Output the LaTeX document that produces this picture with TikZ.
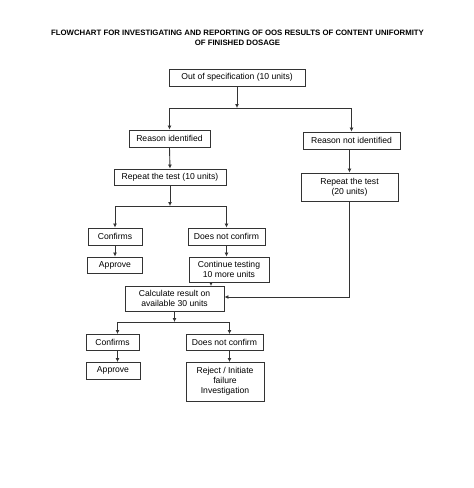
\documentclass[tikz,border=0pt]{standalone}
\usepackage{fontspec}
\setmainfont{Liberation Sans}
\usetikzlibrary{arrows.meta}

\tikzset{
  stepbox/.style={draw=black!80, line width=0.9pt, inner sep=0pt, align=center, font=\fontsize{8.6}{10}\selectfont},
  flow/.style={draw=black!80, line width=0.9pt, -{Latex[length=4pt,width=4pt]}},
  wire/.style={draw=black!80, line width=0.9pt}
}

\begin{document}
\begin{tikzpicture}[x=1pt, y=-1pt]
    \useasboundingbox (0, 0) rectangle (474, 488);

    \node[align=center, font=\bfseries\fontsize{7.8}{10}\selectfont] (title) at (237.5, 37.5)
        {FLOWCHART FOR INVESTIGATING AND REPORTING OF OOS RESULTS OF CONTENT UNIFORMITY\\OF FINISHED DOSAGE};

    % first level
    \node[stepbox, minimum width=136pt, minimum height=17pt] (spec) at (237, 77.5) {Out of specification (10 units)};
    \node[stepbox, minimum width=81pt, minimum height=17pt] (rid) at (169.5, 138.5) {Reason identified};
    \node[stepbox, minimum width=97pt, minimum height=17pt] (rnid) at (351.5, 140.5) {Reason not identified};

    \coordinate (j1) at (237, 108);
    \draw[flow] (spec.south) to (j1);
    \draw[wire] (169.5, 108) to (351.5, 108);
    \draw[flow] (169.5, 108) to (rid.north);
    \draw[flow] (351.5, 108) to (rnid.north);

    % reason identified
    \node[stepbox, minimum width=112pt, minimum height=16pt] (rep10) at (170, 177) {Repeat the test (10 units)};
    \draw[flow] (rid.south) to (rep10.north);

    \node[stepbox, minimum width=54pt, minimum height=17pt] (conf1) at (115, 236.5) {Confirms};
    \node[stepbox, minimum width=77pt, minimum height=17pt] (dnc1) at (226.5, 236.5) {Does not confirm};
    \coordinate (j2) at (170, 206);
    \draw[flow] (rep10.south) to (j2);
    \draw[wire] (115, 206) to (226.5, 206);
    \draw[flow] (115, 206) to (conf1.north);
    \draw[flow] (226.5, 206) to (dnc1.north);

    \node[stepbox, minimum width=55pt, minimum height=16pt] (app1) at (115, 265) {Approve};
    \node[stepbox, minimum width=80pt, minimum height=25pt] (cont) at (229, 269.5) {Continue testing\\10 more units};
    \draw[flow] (conf1.south) to (app1.north);
    \draw[flow] (dnc1.south) to (dnc1.south |- cont.north);

    % reason not identified
    \node[stepbox, minimum width=97pt, minimum height=28pt] (rep20) at (349.5, 187) {Repeat the test\\(20 units)};
    \draw[flow] (rnid.south -| rep20.north) to (rep20.north);

    % combined result
    \node[stepbox, minimum width=99pt, minimum height=25pt] (calc) at (174.5, 298.5) {Calculate result on\\available 30 units};
    \draw[flow] (211, 282) to (211, 286);
    \draw[flow] (rep20.south) to (349.5, 297) to (calc.east |- 0, 297);

    \node[stepbox, minimum width=53pt, minimum height=16pt] (conf2) at (112.5, 342) {Confirms};
    \node[stepbox, minimum width=77pt, minimum height=16pt] (dnc2) at (224.5, 342) {Does not confirm};
    \coordinate (j3) at (174.5, 322);
    \draw[flow] (calc.south) to (j3);
    \draw[wire] (117.5, 322) to (229.5, 322);
    \draw[flow] (117.5, 322) to (117.5, 334);
    \draw[flow] (229.5, 322) to (229.5, 334);

    \node[stepbox, minimum width=54pt, minimum height=17pt] (app2) at (113, 370.5) {Approve};
    \node[stepbox, minimum width=78pt, minimum height=39pt] (rej) at (225, 381.5) {Reject / Initiate\\failure\\Investigation};
    \draw[flow] (117.5, 350) to (117.5, 362);
    \draw[flow] (229.5, 350) to (229.5, 362);
\end{tikzpicture}
\end{document}
